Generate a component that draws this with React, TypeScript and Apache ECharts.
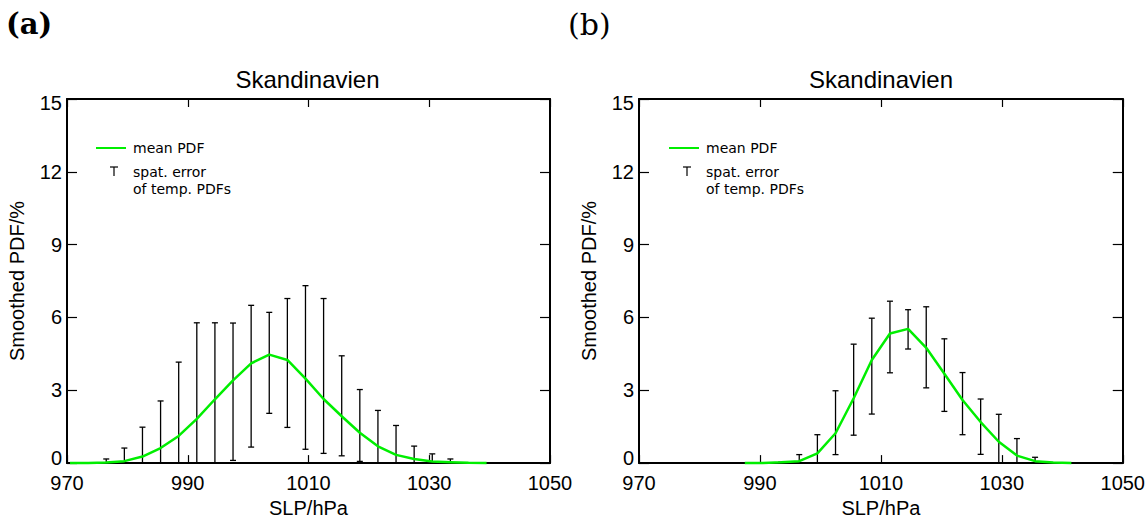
import React, { useEffect, useRef } from "react";
import * as echarts from "echarts";

// ---------- data ----------
const xTickValues = [970, 990, 1010, 1030, 1050];
const yTickValues = [0, 3, 6, 9, 12, 15];

// panel (a)
const meanXA = [970.5, 973.5, 976.5, 979.5, 982.5, 985.5, 988.5, 991.5, 994.5, 997.5, 1000.5, 1003.5, 1006.5, 1009.5, 1012.5, 1015.5, 1018.5, 1021.5, 1024.5, 1027.5, 1030.5, 1033.5, 1036.5, 1039.5];
const meanA = [0, 0, 0.02, 0.08, 0.27, 0.62, 1.12, 1.82, 2.63, 3.41, 4.11, 4.47, 4.25, 3.48, 2.64, 1.93, 1.25, 0.69, 0.34, 0.17, 0.07, 0.04, 0.01, 0];
const errXA = [976.5, 979.5, 982.5, 985.5, 988.5, 991.5, 994.5, 997.5, 1000.5, 1003.5, 1006.5, 1009.5, 1012.5, 1015.5, 1018.5, 1021.5, 1024.5, 1027.5, 1030.5, 1033.5];
const errLowA = [0, 0, 0, 0, 0, 0, 0, 0.11, 0.66, 2.05, 1.47, 0.57, 0.4, 0.3, 0.07, 0, 0, 0, 0, 0];
const errHighA = [0.17, 0.62, 1.48, 2.56, 4.16, 5.78, 5.78, 5.77, 6.5, 6.21, 6.78, 7.31, 6.78, 4.42, 3.03, 2.17, 1.55, 0.7, 0.38, 0.17];

// panel (b)
const meanXB = [987.5, 990.5, 993.5, 996.5, 999.5, 1002.5, 1005.5, 1008.5, 1011.5, 1014.5, 1017.5, 1020.5, 1023.5, 1026.5, 1029.5, 1032.5, 1035.5, 1038.5, 1041.5];
const meanB = [0, 0, 0.03, 0.08, 0.4, 1.23, 2.67, 4.25, 5.34, 5.53, 4.75, 3.68, 2.6, 1.69, 0.88, 0.31, 0.08, 0.02, 0];
const errXB = [993.5, 996.5, 999.5, 1002.5, 1005.5, 1008.5, 1011.5, 1014.5, 1017.5, 1020.5, 1023.5, 1026.5, 1029.5, 1032.5, 1035.5];
const errLowB = [0, 0, 0, 0.35, 1.15, 2.02, 3.72, 4.7, 3.1, 2.13, 1.17, 0.36, 0, 0, 0];
const errHighB = [0.04, 0.35, 1.17, 2.98, 4.9, 5.97, 6.67, 6.32, 6.44, 5.12, 3.73, 2.64, 2.01, 1.01, 0.24];

const panelTitle = "Skandinavien";
const xName = "SLP/hPa";
const yName = "Smoothed PDF/%";
const legendMean = "mean PDF";
const legendErr1 = "spat. error";
const legendErr2 = "of temp. PDFs";

// ---------- styling ----------
const SANS = "Liberation Sans, Arial, Helvetica, sans-serif";
const LEG = "DejaVu Sans, sans-serif";
const GREEN = "#00ee00";
const grids = [
  { left: 67, top: 99, width: 483, height: 372 },
  { left: 639, top: 99, width: 484, height: 372 },
];

function xAxesFor(gi: number) {
  const common = {
    type: "value" as const,
    gridIndex: gi,
    min: xTickValues[0],
    max: xTickValues[xTickValues.length - 1],
    interval: xTickValues[1] - xTickValues[0],
    splitLine: { show: false },
    axisLine: { show: true, onZero: false, lineStyle: { color: "#000", width: 2 } },
    axisTick: { show: true, inside: true, length: 8, lineStyle: { color: "#000", width: 1.2 } },
  };
  return [
    {
      ...common,
      position: "bottom",
      axisLabel: {
        color: "#000",
        fontSize: 20,
        fontFamily: SANS,
        margin: 10,
        formatter: (v: number) => String(v),
      },
      name: xName,
      nameLocation: "middle",
      nameGap: 29,
      nameTextStyle: { color: "#000", fontSize: 20, fontFamily: SANS },
    },
    { ...common, position: "top", axisLabel: { show: false } },
  ];
}

function yAxesFor(gi: number) {
  const common = {
    type: "value" as const,
    gridIndex: gi,
    min: yTickValues[0],
    max: yTickValues[yTickValues.length - 1],
    interval: yTickValues[1] - yTickValues[0],
    splitLine: { show: false },
    axisLine: { show: true, onZero: false, lineStyle: { color: "#000", width: 2 } },
    axisTick: { show: true, inside: true, length: 10, lineStyle: { color: "#000", width: 1.2 } },
  };
  return [
    {
      ...common,
      position: "left",
      axisLabel: {
        color: "#000",
        fontSize: 20,
        fontFamily: SANS,
        margin: 5,
        formatter: (v: number) =>
          v === yTickValues[0] ? `{lo|${v}}` : v === yTickValues[yTickValues.length - 1] ? `{hi|${v}}` : `{n|${v}}`,
        rich: {
          lo: { fontSize: 20, fontFamily: SANS, color: "#000", padding: [0, 0, 10, 0] },
          hi: { fontSize: 20, fontFamily: SANS, color: "#000", padding: [8, 0, 0, 0] },
          n: { fontSize: 20, fontFamily: SANS, color: "#000" },
        },
      },
      name: yName,
      nameLocation: "middle",
      nameGap: 40,
      nameRotate: 90,
      nameTextStyle: { color: "#000", fontSize: 20, fontFamily: SANS },
    },
    { ...common, position: "right", axisLabel: { show: false } },
  ];
}

function errRender(params: any, api: any) {
  const x = api.value(0);
  const p1 = api.coord([x, api.value(1)]);
  const p2 = api.coord([x, api.value(2)]);
  const w = 3;
  const st = { stroke: "#000", lineWidth: 1.3 };
  return {
    type: "group",
    children: [
      { type: "line", shape: { x1: p1[0], y1: p1[1], x2: p2[0], y2: p2[1] }, style: st },
      { type: "line", shape: { x1: p1[0] - w, y1: p1[1], x2: p1[0] + w, y2: p1[1] }, style: st },
      { type: "line", shape: { x1: p2[0] - w, y1: p2[1], x2: p2[0] + w, y2: p2[1] }, style: st },
    ],
  };
}

function legendGraphics(dx: number) {
  const st = { stroke: "#000", lineWidth: 1.2 };
  const ts = (t: string, x: number, y: number) => ({
    type: "text",
    x,
    y,
    style: { text: t, fill: "#000", font: `14px ${LEG}`, textVerticalAlign: "middle" },
  });
  return [
    { type: "line", shape: { x1: 96 + dx, y1: 148, x2: 126 + dx, y2: 148 }, style: { stroke: GREEN, lineWidth: 2 } },
    ts(legendMean, 133 + dx, 148),
    { type: "line", shape: { x1: 110 + dx, y1: 167, x2: 118 + dx, y2: 167 }, style: st },
    { type: "line", shape: { x1: 114 + dx, y1: 167, x2: 114 + dx, y2: 176 }, style: st },
    ts(legendErr1, 133 + dx, 172),
    ts(legendErr2, 133 + dx, 189),
  ];
}

export default function App() {
  const ref = useRef<HTMLDivElement>(null);
  useEffect(() => {
    const chart = echarts.init(ref.current!, null, { renderer: "svg" });
    const meanSeries = (xs: number[], ys: number[], xi: number, yi: number) => ({
      type: "line",
      xAxisIndex: xi,
      yAxisIndex: yi,
      data: xs.map((x, i) => [x, ys[i]]),
      symbol: "none",
      lineStyle: { color: GREEN, width: 2.5 },
      z: 5,
      clip: false,
    });
    const errSeries = (xs: number[], lo: number[], hi: number[], xi: number, yi: number) => ({
      type: "custom",
      xAxisIndex: xi,
      yAxisIndex: yi,
      data: xs.map((x, i) => [x, lo[i], hi[i]]),
      encode: { x: 0, y: [1, 2] },
      renderItem: errRender,
      z: 4,
    });
    const titleStyle = { color: "#000", fontSize: 24, fontWeight: "normal", fontFamily: SANS };
    chart.setOption({
      animation: false,
      backgroundColor: "#fff",
      title: [
        {
          text: panelTitle,
          left: grids[0].left + grids[0].width / 2 - 1,
          top: 67,
          textAlign: "center",
          padding: 0,
          textStyle: titleStyle,
        },
        {
          text: panelTitle,
          left: grids[1].left + grids[1].width / 2,
          top: 67,
          textAlign: "center",
          padding: 0,
          textStyle: titleStyle,
        },
      ],
      grid: grids.map((g) => ({ ...g, containLabel: false })),
      xAxis: [...xAxesFor(0), ...xAxesFor(1)],
      yAxis: [...yAxesFor(0), ...yAxesFor(1)],
      series: [
        errSeries(errXA, errLowA, errHighA, 0, 0),
        meanSeries(meanXA, meanA, 0, 0),
        errSeries(errXB, errLowB, errHighB, 2, 2),
        meanSeries(meanXB, meanB, 2, 2),
      ],
      graphic: [
        {
          type: "text",
          x: 6,
          y: 24,
          style: { text: "(a)", fill: "#000", font: `bold 29px DejaVu Serif, serif`, textVerticalAlign: "middle" },
        },
        {
          type: "text",
          x: 568,
          y: 24,
          style: { text: "(b)", fill: "#000", font: `30px DejaVu Serif, serif`, textVerticalAlign: "middle" },
        },
        ...legendGraphics(0),
        ...legendGraphics(573),
      ],
    });
    return () => chart.dispose();
  }, []);
  return (
    <div
      ref={ref}
      style={{ position: "fixed", left: 0, top: 0, width: 1148, height: 523, background: "#fff" }}
    />
  );
}
